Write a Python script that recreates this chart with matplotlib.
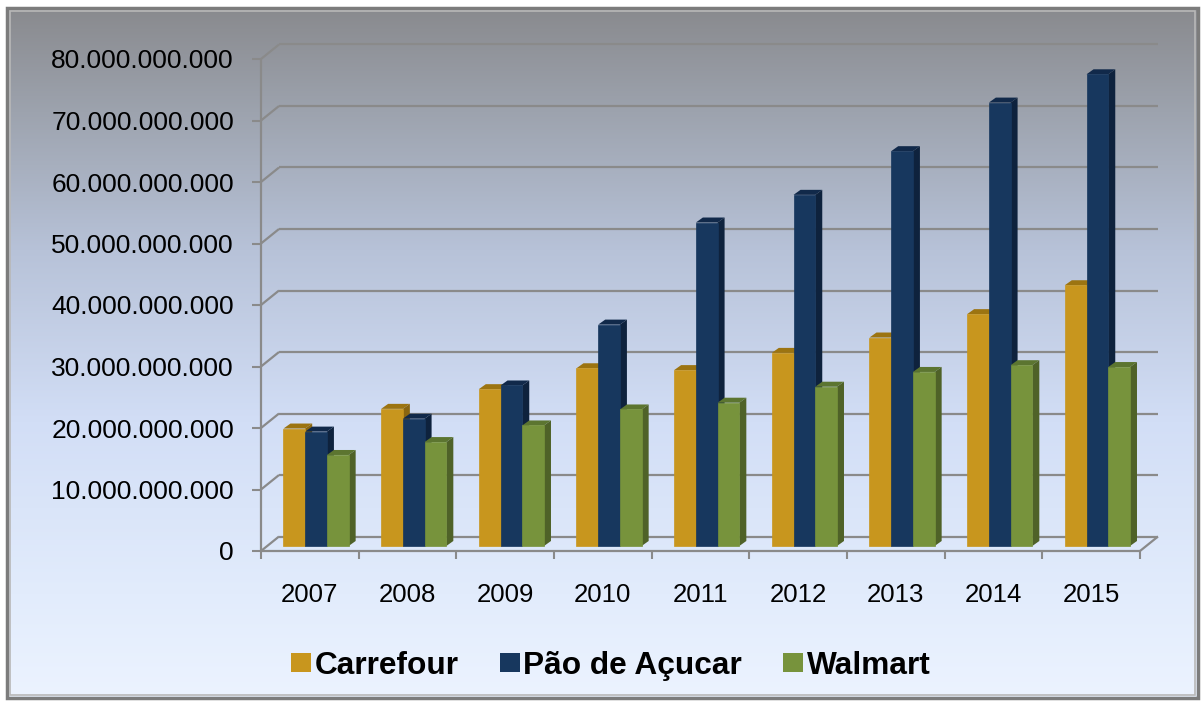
import matplotlib.pyplot as plt
import numpy as np
from matplotlib.patches import Polygon, Rectangle, Patch
from matplotlib.ticker import FuncFormatter

plt.rcParams['font.family'] = ['Liberation Sans', 'DejaVu Sans']

# dados (bilhões)
anos = ['2007', '2008', '2009', '2010', '2011', '2012', '2013', '2014', '2015']
carrefour = [19.1, 22.3, 25.5, 28.9, 28.6, 31.4, 33.9, 37.7, 42.4]
pao_acucar = [18.6, 20.7, 26.1, 36.0, 52.6, 57.1, 64.2, 72.1, 76.7]
walmart = [14.8, 16.9, 19.6, 22.2, 23.3, 25.9, 28.3, 29.4, 29.1]
series = ['Carrefour', 'Pão de Açucar', 'Walmart']
valores = [carrefour, pao_acucar, walmart]

# cores: frente, topo, lateral
cores = [('#C8961E', '#9C7411', '#8A6610'),
         ('#17375E', '#11294A', '#0E223D'),
         ('#77933C', '#5C7530', '#4F6228')]
grid_cor = '#8A8A8A'

W, H = 1204, 702
fig = plt.figure(figsize=(W / 100, H / 100), dpi=100)

# fundo com gradiente
bg = fig.add_axes([0, 0, 1, 1])
bg.set_xlim(0, W)
bg.set_ylim(H, 0)
bg.axis('off')
stops = [0.0, 0.15, 0.35, 0.6, 0.85, 1.0]
stop_cols = ['#898A8E', '#9DA3AE', '#B7C2D8', '#D2DEF6', '#E2ECFC', '#ECF3FF']
rgb = np.array([[int(c[i:i + 2], 16) / 255 for i in (1, 3, 5)] for c in stop_cols])
t = np.linspace(0, 1, 400)
grad = np.stack([np.interp(t, stops, rgb[:, j]) for j in range(3)], axis=1)
bg.imshow(grad[:, None, :], extent=(7, 1198, 698, 8), aspect='auto', zorder=0)
bg.add_patch(Rectangle((7, 8), 1191, 690, fill=False, edgecolor='#7C7C7C', lw=2.5, zorder=2))
bg.add_patch(Rectangle((10, 11), 1185, 684, fill=False, edgecolor='#B8B8B8', lw=1.2, zorder=2))

# eixo principal
x0_px, x1_px, y0_px, y1_px = 261, 1140, 551, 59
ax = fig.add_axes([x0_px / W, (H - y0_px) / H, (x1_px - x0_px) / W, (y0_px - y1_px) / H])
ax.patch.set_alpha(0)
n = len(anos)
ax.set_xlim(0, n)
ax.set_ylim(0, 80)
for s in ax.spines.values():
    s.set_visible(False)

sx = (x1_px - x0_px) / n
sy = (y0_px - y1_px) / 80.0

WX, WY = 18 / sx, 14.5 / sy      # parede do fundo
DX, DY = 7 / sx, 5 / sy          # profundidade das barras
BASE = 5 / sy
BW = 0.2225
OFF = 0.23

kw = dict(color=grid_cor, lw=1.6, clip_on=False, solid_capstyle='butt')
for v in range(0, 81, 10):
    ax.plot([WX, n + WX], [v + WY, v + WY], zorder=1, **kw)
    ax.plot([0, WX], [v, v + WY], zorder=1, **kw)
ax.plot([n, n + WX], [0, WY], zorder=1, **kw)
ax.plot([0, n], [0, 0], zorder=1, **kw)
ax.plot([0, 0], [0, 80], zorder=1, **kw)

# barras 3D
for k, (vals, (cf, ct, cs)) in enumerate(zip(valores, cores)):
    xs = np.arange(n) + OFF + k * BW
    ax.bar(xs, vals, width=BW, bottom=BASE, align='edge', color=cf,
           edgecolor=cf, lw=0.5, zorder=4 + 2 * k, clip_on=False)
    for x, v in zip(xs, vals):
        top = BASE + v
        ax.add_patch(Polygon([(x, top), (x + BW, top), (x + BW + DX, top + DY), (x + DX, top + DY)],
                             closed=True, facecolor=ct, edgecolor='none', zorder=3 + 2 * k, clip_on=False))
        ax.add_patch(Polygon([(x + BW, BASE), (x + BW + DX, BASE + DY), (x + BW + DX, top + DY), (x + BW, top)],
                             closed=True, facecolor=cs, edgecolor='none', zorder=3 + 2 * k, clip_on=False))

ax.set_yticks(range(0, 81, 10))
ax.yaxis.set_major_formatter(FuncFormatter(lambda v, p: '{:,.0f}'.format(v * 1e9).replace(',', '.')))
ax.tick_params(axis='y', length=6.5, width=1.5, color=grid_cor, pad=13, labelsize=19)

ax.set_xticks(np.arange(n) + 0.5)
ax.set_xticklabels(anos)
ax.set_xticks(np.arange(n + 1), minor=True)
ax.tick_params(axis='x', which='major', length=0, pad=23, labelsize=18.5)
ax.tick_params(axis='x', which='minor', length=6, width=1.5, color=grid_cor)

handles = [Patch(facecolor=c[0]) for c in cores]
fig.legend(handles, series, loc='center', bbox_to_anchor=(611 / W, 1 - 666 / H), ncol=3,
           frameon=False, prop=dict(weight='bold', size=22.8), handlelength=0.62,
           handleheight=0.55, handletextpad=0.12, columnspacing=1.3)

fig.savefig('out.png', dpi=100)
